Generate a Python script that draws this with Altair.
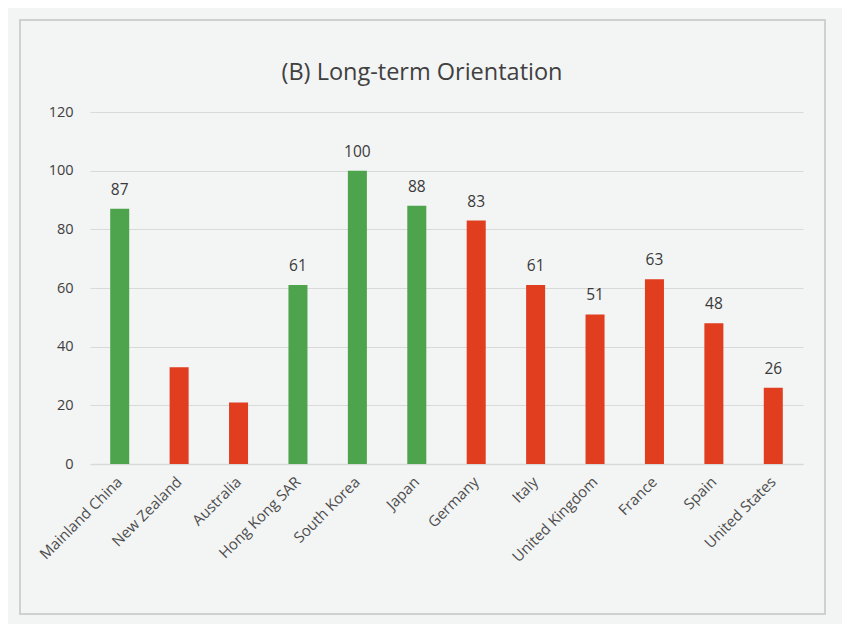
import altair as alt
import pandas as pd

countries = ["Mainland China", "New Zealand", "Australia", "Hong Kong SAR", "South Korea",
             "Japan", "Germany", "Italy", "United Kingdom", "France", "Spain", "United States"]
values = [87, 33, 21, 61, 100, 88, 83, 61, 51, 63, 48, 26]
groups = ["East", "West", "West", "East", "East", "East", "West", "West", "West", "West", "West", "West"]
labels = ["87", "", "", "61", "100", "88", "83", "61", "51", "63", "48", "26"]
y_ticks = [0, 20, 40, 60, 80, 100, 120]
title_text = "(B) Long-term Orientation"

df = pd.DataFrame({"country": countries, "value": values, "group": groups, "label": labels})
one = pd.DataFrame({"title": [title_text]})

BG = "#f3f4f4"
FONT = "Open Sans"

x = alt.X("country:N", sort=countries, title=None,
          scale=alt.Scale(paddingInner=0.68, paddingOuter=0.34),
          axis=alt.Axis(labelAngle=-45, labelAlign="right", labelBaseline="middle",
                        labelFontSize=15, labelColor="#4d4d4d", labelFont=FONT,
                        labelPadding=15, ticks=False, domainColor="#d9d9d9", domainWidth=1.5))
y = alt.Y("value:Q", title=None,
          scale=alt.Scale(domain=[0, 120], nice=False),
          axis=alt.Axis(values=y_ticks, labelFontSize=14.5, labelColor="#404040", labelFont=FONT,
                        labelPadding=17, ticks=False, domain=False, gridColor="#d9d9d9",
                        gridWidth=1.2))

bars = alt.Chart(df).mark_bar(strokeWidth=0).encode(
    x=x, y=y,
    color=alt.Color("group:N", legend=None,
                    scale=alt.Scale(domain=["East", "West"], range=["#4ea44c", "#e03e1f"])),
)

text = alt.Chart(df).mark_text(baseline="alphabetic", dy=-14, fontSize=15.5, font=FONT,
                               color="#3a3a3a", fontWeight=500).encode(
    x=alt.X("country:N", sort=countries), y="value:Q", text="label:N")

frame = alt.Chart(one).mark_rect(fill=None, stroke="#cfd0d0", strokeWidth=2).encode(
    x=alt.value(-70), x2=alt.value(735), y=alt.value(-92), y2=alt.value(502))

title = alt.Chart(one).mark_text(fontSize=23.5, font=FONT, color="#404040", baseline="middle").encode(
    x=alt.value(332), y=alt.value(-39), text="title:N")

chart = alt.layer(frame, bars, text, title).properties(
    width=713, height=352, background=BG,
    padding={"left": 82, "top": 104, "right": 39, "bottom": 160},
    autosize=alt.AutoSizeParams(type="none"),
).configure_view(stroke=None)

chart.save("out.html", embed_options={"renderer": "svg", "actions": False})
